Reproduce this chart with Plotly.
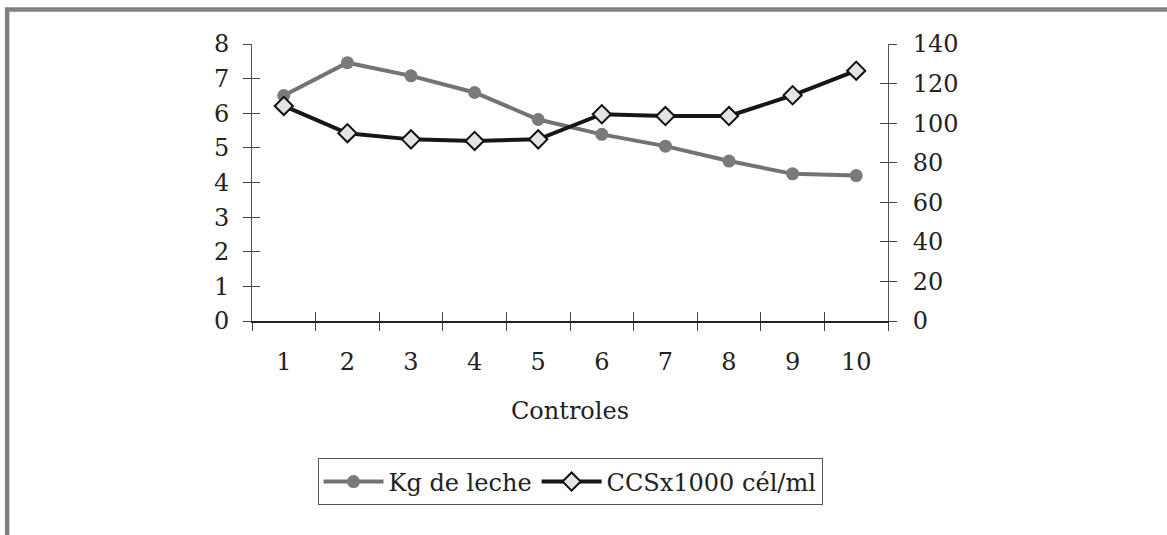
import plotly.graph_objects as go

controles = ["1", "2", "3", "4", "5", "6", "7", "8", "9", "10"]
kg_leche = [6.51, 7.46, 7.08, 6.60, 5.82, 5.39, 5.05, 4.62, 4.25, 4.20]
ccs = [108.7, 94.9, 91.8, 91.0, 91.8, 104.5, 103.6, 103.6, 114.1, 126.5]
left_ticks = [0, 1, 2, 3, 4, 5, 6, 7, 8]
right_ticks = [0, 20, 40, 60, 80, 100, 120, 140]

FONT = "DejaVu Serif"
TXT = "#222222"
AX = "#444444"

fig = go.Figure()

fig.add_trace(go.Scatter(
    x=controles, y=kg_leche, name="Kg de leche", mode="lines+markers",
    line=dict(color="#737373", width=4),
    marker=dict(symbol="circle", size=13, color="#7a7a7a"),
    xaxis="x", yaxis="y", hoverinfo="skip"))

fig.add_trace(go.Scatter(
    x=controles, y=ccs, name="CCSx1000 cél/ml", mode="lines+markers",
    line=dict(color="#161616", width=4),
    marker=dict(symbol="diamond", size=14, color="#e4e4e4",
                line=dict(color="#111111", width=2)),
    xaxis="x", yaxis="y2", hoverinfo="skip"))

# invisible helper traces so the tick-only overlay axes are drawn
for xa, ya, vals in [("x2", "y", kg_leche), ("x", "y3", kg_leche),
                     ("x", "y4", ccs), ("x", "y5", ccs)]:
    fig.add_trace(go.Scatter(x=controles, y=vals, mode="lines", opacity=0,
                             line=dict(width=0), showlegend=False,
                             hoverinfo="skip", xaxis=xa, yaxis=ya))

common_x = dict(type="category", categoryorder="array", categoryarray=controles,
                range=[-0.5, 9.5], tickson="boundaries", showgrid=False,
                zeroline=False, tickcolor=AX, tickwidth=1, fixedrange=True)
tick_only = dict(showline=False, showgrid=False, zeroline=False,
                 showticklabels=False, fixedrange=True, tickcolor=AX,
                 anchor="x", overlaying="y")

fig.update_layout(
    width=1167, height=535,
    margin=dict(l=252, r=279, t=44, b=214),
    paper_bgcolor="white", plot_bgcolor="white",
    font=dict(family=FONT, size=24, color=TXT),
    showlegend=True,
    legend=dict(orientation="h", x=0.5, xanchor="center", y=-0.581,
                yanchor="middle", bordercolor="#555555", borderwidth=1,
                font=dict(family=FONT, size=24, color=TXT),
                itemwidth=60, tracegroupgap=0),
    xaxis=dict(**common_x, anchor="y", side="bottom", ticks="outside",
               ticklen=8, showline=True, linecolor="#222222", linewidth=1.5,
               ticklabelstandoff=18,
               tickfont=dict(family=FONT, size=24, color=TXT),
               title=dict(text="Controles", standoff=28,
                          font=dict(family=FONT, size=24, color=TXT))),
    xaxis2=dict(**common_x, anchor="y", side="bottom", overlaying="x",
                ticks="inside", ticklen=9, showline=False,
                showticklabels=False),
    yaxis=dict(range=[0, 8], tickvals=left_ticks, ticks="outside", ticklen=8,
               tickcolor=AX, showline=True, linecolor="#555555", linewidth=1,
               showgrid=False, zeroline=False, ticklabelstandoff=9,
               tickfont=dict(family=FONT, size=24, color=TXT), fixedrange=True),
    yaxis3=dict(range=[0, 8], tickvals=left_ticks, ticks="inside", ticklen=8,
                side="left", **tick_only),
    yaxis2=dict(range=[0, 140], tickvals=right_ticks, ticks="outside",
                ticklen=19, tickcolor="rgba(0,0,0,0)", overlaying="y",
                side="right", anchor="x", showline=True, linecolor="#555555",
                linewidth=1, showgrid=False, zeroline=False,
                tickfont=dict(family=FONT, size=24, color=TXT), fixedrange=True),
    yaxis4=dict(range=[0, 140], tickvals=right_ticks, ticks="inside",
                ticklen=8, side="right", **tick_only),
    yaxis5=dict(range=[0, 140], tickvals=right_ticks, ticks="outside",
                ticklen=8, side="right", **tick_only),
    shapes=[dict(type="rect", xref="paper", yref="paper",
                 x0=-0.385, x1=1.6, y0=-1.5, y1=1.1245,
                 line=dict(color="#808080", width=4.5), fillcolor="rgba(0,0,0,0)",
                 layer="below")],
)

fig.write_html("out.html", config={"displayModeBar": False},
               post_script="document.body.style.margin='0';document.body.style.padding='0';")
